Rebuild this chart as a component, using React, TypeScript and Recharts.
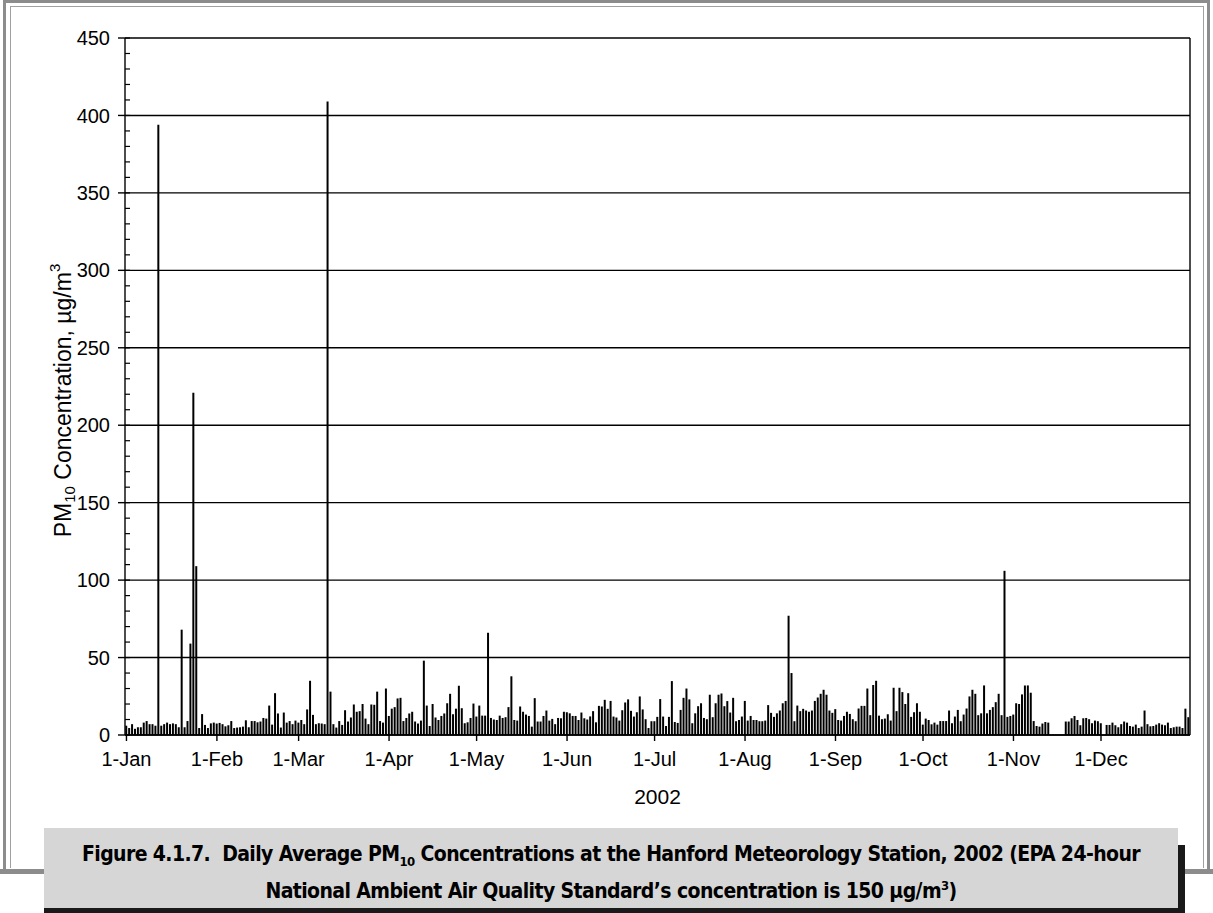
import { Bar, ComposedChart, CartesianGrid, Line, XAxis, YAxis } from "recharts";

// Daily average PM10 (µg/m3), 2002. null = no sample.
const jan = [6, 4.5, 7, 4, 5, 5, 8, 9, 7, 7, 6, 394, 6, 7, 8, 7, 7.5, 7, 5, 68, 5, 9, 59, 221, 109, 4.5, 13.5, 6.5, 4.5, 7.5, 8];
const feb = [7.4, 7.8, 7, 5.6, 6.3, 9, 4.5, 4.8, 5, 5.4, 9.5, 5, 9, 9, 8.2, 8.7, 11, 10.6, 19, 6.7, 27, 13.9, 4.8, 14.5, 8, 9, 7, 9.3];
const mar = [8, 9.7, 7, 16.5, 35, 13, 7, 7.6, 7.4, 7, 409, 28, 7, 4.8, 9, 6.5, 16, 8.7, 11.3, 19.7, 15, 15.4, 20, 10.6, 7, 19.7, 19.5, 28, 9, 8, 30];
const apr = [12.3, 17, 18, 23.6, 24, 9, 11, 13.9, 15, 8.7, 7.4, 9.3, 48, 19, 5.8, 20, 11.3, 9.7, 12.3, 13.9, 20.5, 26.6, 13.4, 17, 31.8, 17.3, 7.6, 8.2, 11, 20.3];
const may = [11.9, 19, 12.5, 12.5, 66, 11, 10, 9.7, 12.5, 11, 11.5, 18, 37.9, 9.7, 9.3, 18.4, 15, 13.2, 12.3, 5.4, 23.8, 8.7, 8.7, 12.3, 15.8, 9.3, 10.4, 7, 11, 10.8, 15];
const jun = [14.7, 14, 12.3, 12.3, 9.7, 14.5, 10.8, 10, 12, 15.4, 8.2, 18.8, 18.4, 22.7, 16.9, 22, 11.9, 11.3, 9.3, 16, 21, 23, 15.6, 11.9, 14.7, 24.9, 16.5, 10.2, 4.5, 8.9];
const jul = [8.9, 11.7, 23.2, 11.9, 5.8, 11.7, 34.8, 8.4, 7.8, 16.2, 24, 30, 23, 7.6, 14, 18.6, 20.5, 11, 10.2, 26, 11.5, 20.5, 26, 26.8, 18.6, 21.9, 14.5, 24, 8.9, 9.7, 11.9];
const aug = [22, 9.3, 12.3, 9.7, 9.7, 8.9, 8.9, 9.3, 19.3, 14.3, 11.7, 14, 15.8, 20.5, 22, 77, 40, 8.9, 19, 15.4, 16.9, 15.8, 15, 15.8, 22, 24.2, 26.6, 29.2, 26, 15.8, 14.3];
const sep = [16.7, 9.7, 9.3, 12.3, 15, 13.6, 10.2, 8.9, 17.1, 18.8, 18.8, 30, 12.8, 32.3, 35, 12.5, 10.2, 10.6, 13.4, 9.3, 30.5, 15.4, 30.5, 27.7, 20, 27, 11.7, 14.7, 20.5, 15];
const oct = [6.7, 10.6, 9.7, 6.9, 8, 6.7, 9, 9, 9, 15.8, 7.6, 11.9, 16.2, 8.9, 13.2, 17.1, 24.9, 29.2, 26.6, 12.8, 14, 32, 14, 16.2, 18, 21.2, 26.6, 12.8, 106, 11.7, 12.3];
const nov = [13.2, 20.5, 20, 26.2, 32, 32, 27.3, 9, 5.8, 5.4, 7.4, 8.4, 8, null, null, null, null, null, 8.7, 8.7, 10.8, 12.3, 9.7, 6.3, 10.8, 11, 10.2, 7.6, 9.3, 8.9];
const dec = [7.6, null, 6.5, 6.5, 8, 6.3, 5, 7, 8.7, 8, 5.8, 5.4, 6.7, 4.5, 5.4, 15.8, 7, 5.6, 5.8, 6.7, 7.6, 6.7, 6.3, 8, 4.5, 5, 5.4, 5.4, 4.5, 17, 11.5];

const monthNames = ["Jan", "Feb", "Mar", "Apr", "May", "Jun", "Jul", "Aug", "Sep", "Oct", "Nov", "Dec"];
const months = [jan, feb, mar, apr, may, jun, jul, aug, sep, oct, nov, dec];

const yTicks = [0, 50, 100, 150, 200, 250, 300, 350, 400, 450];
const yMinorTicks = Array.from({ length: 46 }, (_, i) => i * 10);
const xTicks = monthNames.map((m) => `1-${m}`);

const data = months.flatMap((values, m) =>
  values.map((value, d) => ({ date: `${d + 1}-${monthNames[m]}`, value })),
);

const FONT = "Liberation Sans, Arial, sans-serif";
const axisFont = { fill: "#000", fontSize: 20, fontFamily: FONT };

function YLabel({ viewBox }: any) {
  const cx = viewBox.x + viewBox.width / 2;
  const cy = viewBox.y + viewBox.height / 2 + 14;
  return (
    <text
      x={cx}
      y={cy}
      transform={`rotate(-90 ${cx} ${cy})`}
      textAnchor="middle"
      dominantBaseline="central"
      fontSize={23}
      fontFamily={FONT}
      fill="#000"
    >
      PM
      <tspan fontSize={15} dy={6}>10</tspan>
      <tspan dy={-6}> Concentration, µg/m</tspan>
      <tspan fontSize={15} dy={-9}>3</tspan>
    </text>
  );
}

export default function App() {
  return (
    <div style={{ position: "absolute", left: 0, top: 0, width: 1213, height: 913, background: "#fff", overflow: "hidden" }}>
      {/* outer figure frame */}
      <div
        style={{
          position: "absolute",
          left: 3,
          top: 0,
          width: 1201,
          height: 867,
          borderTop: "3px solid #8c8c8c",
          borderLeft: "3px solid #8c8c8c",
          borderRight: "3px solid #8c8c8c",
        }}
      />
      <div style={{ position: "absolute", left: 0, top: 869, width: 1213, height: 5, background: "#8c8c8c" }} />
      <div style={{ position: "absolute", left: 10, top: 6, width: 1192, height: 861, borderLeft: "1px solid #a0a0a0", borderRight: "1px solid #a0a0a0", borderTop: "1px solid #a0a0a0" }} />

      <div style={{ position: "absolute", left: 0, top: 0 }}>
        <ComposedChart
          width={1213}
          height={830}
          data={data}
          margin={{ top: 38, right: 0, bottom: 50, left: 0 }}
          barCategoryGap="8%"
        >
          <CartesianGrid vertical={false} stroke="#000" strokeWidth={1.4} />
          <XAxis
            dataKey="date"
            ticks={xTicks}
            interval={0}
            height={45}
            tick={axisFont}
            tickSize={6}
            tickMargin={11}
            tickLine={{ stroke: "#000", strokeWidth: 1.4 }}
            axisLine={{ stroke: "#000", strokeWidth: 1.4 }}
            label={{ value: "2002", position: "bottom", offset: 9, fill: "#000", fontSize: 21, fontFamily: FONT }}
          />
          <YAxis
            domain={[0, 450]}
            ticks={yTicks}
            interval={0}
            width={125}
            tick={axisFont}
            tickSize={7}
            tickMargin={8}
            tickLine={{ stroke: "#000", strokeWidth: 1.4 }}
            axisLine={{ stroke: "#000", strokeWidth: 1.4 }}
            label={{ content: YLabel }}
          />
          {/* minor ticks every 10, pointing into the plot */}
          <YAxis
            yAxisId="minor"
            type="number"
            domain={[0, 450]}
            allowDataOverflow
            ticks={yMinorTicks}
            interval={0}
            mirror
            width={1}
            tickFormatter={() => ""}
            tickSize={5}
            tickLine={{ stroke: "#000", strokeWidth: 1.2 }}
            axisLine={false}
          />
          <YAxis
            yAxisId="right"
            orientation="right"
            domain={[0, 450]}
            width={23}
            tick={false}
            tickLine={false}
            axisLine={{ stroke: "#000", strokeWidth: 1.4 }}
          />
          <Bar dataKey="value" fill="#000" isAnimationActive={false} />
          {/* invisible series so the minor-tick axis has a scale */}
          <Line yAxisId="minor" dataKey="value" stroke="none" dot={false} activeDot={false} legendType="none" isAnimationActive={false} />
        </ComposedChart>
      </div>

      {/* caption box with drop shadow */}
      <div style={{ position: "absolute", left: 1178, top: 845, width: 7, height: 68, background: "#1a1a1a" }} />
      <div style={{ position: "absolute", left: 44, top: 908, width: 1141, height: 5, background: "#1a1a1a" }} />
      <div
        style={{
          position: "absolute",
          left: 44,
          top: 828,
          width: 1134,
          height: 80,
          boxSizing: "border-box",
          paddingTop: 8,
          background: "#d6d6d6",
          textAlign: "center",
          fontFamily: "DejaVu Sans Condensed, DejaVu Sans, sans-serif",
          fontWeight: "bold",
          fontSize: 21,
          letterSpacing: -0.6,
          lineHeight: "37px",
          color: "#000",
        }}
      >
        Figure 4.1.7.&nbsp; Daily Average PM<sub style={{ fontSize: 13, lineHeight: 0 }}>10</sub> Concentrations at the Hanford Meteorology Station, 2002 (EPA 24-hour
        <br />
        National Ambient Air Quality Standard’s concentration is 150 µg/m<sup style={{ fontSize: 13, lineHeight: 0 }}>3</sup>)
      </div>
    </div>
  );
}
